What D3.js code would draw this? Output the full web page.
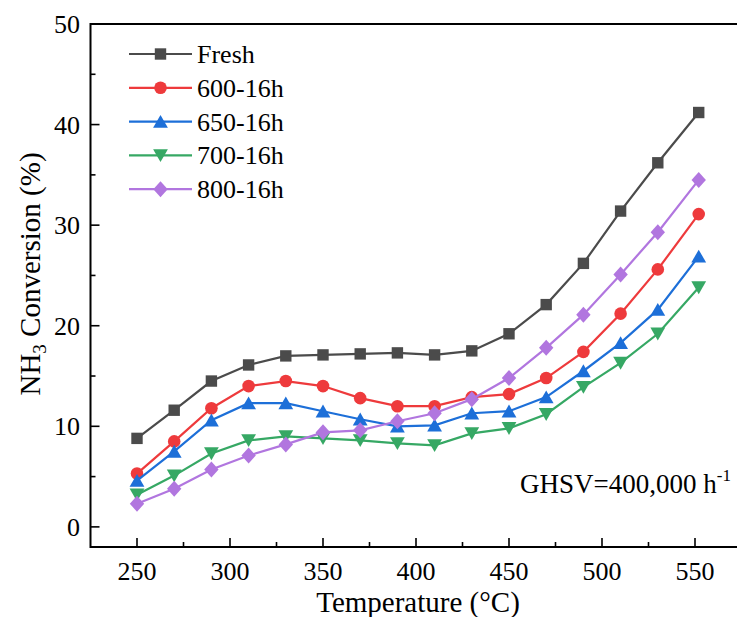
<!DOCTYPE html>
<html>
<head>
<meta charset="utf-8">
<script src="https://cdn.jsdelivr.net/npm/d3@7"></script>
<style>
  body { margin: 0; background: #fff; }
  svg { display: block; }
</style>
</head>
<body>
<div id="chart"></div>
<script>
/**
 * DATA
 * */
const temps = [250, 270, 290, 310, 330, 350, 370, 390, 410, 430, 450, 470, 490, 510, 530, 552];
const fresh = [8.8, 11.6, 14.5, 16.1, 17.0, 17.1, 17.2, 17.3, 17.1, 17.5, 19.2, 22.1, 26.2, 31.4, 36.2, 41.2];
const aged600 = [5.3, 8.5, 11.8, 14.0, 14.5, 14.0, 12.8, 12.0, 12.0, 12.9, 13.2, 14.8, 17.4, 21.2, 25.6, 31.1];
const aged650 = [4.6, 7.5, 10.6, 12.3, 12.3, 11.5, 10.7, 10.0, 10.1, 11.3, 11.5, 12.9, 15.5, 18.3, 21.6, 26.9];
const aged700 = [3.2, 5.1, 7.3, 8.6, 9.0, 8.8, 8.6, 8.3, 8.1, 9.3, 9.8, 11.2, 13.9, 16.3, 19.2, 23.8];
const aged800 = [2.3, 3.8, 5.7, 7.1, 8.2, 9.4, 9.6, 10.5, 11.3, 12.7, 14.8, 17.8, 21.1, 25.1, 29.3, 34.5];

const seriesNames = ["Fresh", "600-16h", "650-16h", "700-16h", "800-16h"];
const xTicks = [250, 300, 350, 400, 450, 500, 550];
const yTicks = [0, 10, 20, 30, 40, 50];

/**
 * CONSTANTS
 * */
const width = 737, height = 617;
const colors = ["#4b4b4b", "#ee3a3c", "#1d6fd8", "#36a864", "#b176df"];
const shapes = ["square", "circle", "triUp", "triDown", "diamond"];
const serif = "Liberation Serif";

const svg = d3.select("#chart")
  .append("svg")
  .attr("width", width)
  .attr("height", height)
  .attr("font-family", serif);

const x = d3.scaleLinear().domain([225, 575]).range([90.5, 741.5]);
const y = d3.scaleLinear().domain([-2, 50]).range([547, 24]);

// marker path, centred on its box
function markerPath(shape) {
  switch (shape) {
    case "square": return "M-5.7,-5.7H5.7V5.7H-5.7Z";
    case "circle": return "M6.3,0A6.3,6.3 0 1,1 -6.3,0A6.3,6.3 0 1,1 6.3,0Z";
    case "triUp": return "M0,-6.7L7.4,6.2L-7.4,6.2Z";
    case "triDown": return "M0,6.7L7.4,-6.2L-7.4,-6.2Z";
    case "diamond": return "M0,-8L7.2,0L0,8L-7.2,0Z";
  }
}

const allSeries = [fresh, aged600, aged650, aged700, aged800];

// + AXES FRAME
svg.append("path")
  .attr("d", `M${x(225)},${y(50)}H${x(575)}V${y(-2)}H${x(225)}Z`)
  .attr("fill", "none")
  .attr("stroke", "#000")
  .attr("stroke-width", 2);

// x ticks point inward
const xAxisG = svg.append("g").attr("stroke", "#000").attr("stroke-width", 1.6);
d3.range(250, 575, 25).forEach(v => {
  const major = v % 50 === 0;
  xAxisG.append("line")
    .attr("x1", x(v)).attr("x2", x(v))
    .attr("y1", y(-2)).attr("y2", y(-2) - (major ? 9 : 5));
});
svg.append("g").selectAll("text")
  .data(xTicks)
  .join("text")
  .attr("x", d => x(d))
  .attr("y", 579.5)
  .attr("text-anchor", "middle")
  .attr("font-size", 26)
  .text(d => d);

// y ticks point inward
const yAxisG = svg.append("g").attr("stroke", "#000").attr("stroke-width", 1.6);
d3.range(0, 50, 5).forEach(v => {
  const major = v % 10 === 0;
  yAxisG.append("line")
    .attr("x1", x(225)).attr("x2", x(225) + (major ? 9 : 5))
    .attr("y1", y(v)).attr("y2", y(v));
});
svg.append("g").selectAll("text")
  .data(yTicks)
  .join("text")
  .attr("x", 80)
  .attr("y", d => y(d) + 9)
  .attr("text-anchor", "end")
  .attr("font-size", 26)
  .text(d => d);

// axis titles
svg.append("text")
  .attr("x", 418)
  .attr("y", 611.5)
  .attr("text-anchor", "middle")
  .attr("font-size", 29)
  .text("Temperature (\u00B0C)");

const yTitle = svg.append("text")
  .attr("transform", "translate(40,274) rotate(-90)")
  .attr("text-anchor", "middle")
  .attr("font-size", 29);
yTitle.append("tspan").text("NH");
yTitle.append("tspan").attr("font-size", 19).attr("dy", 6).text("3");
yTitle.append("tspan").attr("dy", -6).text(" Conversion (%)");

// + LINES AND MARKERS
const line = d3.line()
  .x((d, i) => x(temps[i]))
  .y(d => y(d));

allSeries.forEach((vals, k) => {
  const g = svg.append("g");
  g.append("path")
    .datum(vals)
    .attr("d", line)
    .attr("fill", "none")
    .attr("stroke", colors[k])
    .attr("stroke-width", 2.2);
  g.selectAll("path.m")
    .data(vals)
    .join("path")
    .attr("class", "m")
    .attr("transform", (d, i) => `translate(${x(temps[i])},${y(d)})`)
    .attr("d", markerPath(shapes[k]))
    .attr("fill", colors[k]);
});

// + LEGEND
const legend = svg.append("g");
seriesNames.forEach((name, k) => {
  const ly = 54 + k * 33.8;
  legend.append("line")
    .attr("x1", 129).attr("x2", 192)
    .attr("y1", ly).attr("y2", ly)
    .attr("stroke", colors[k]).attr("stroke-width", 2.2);
  legend.append("path")
    .attr("transform", `translate(160.5,${ly})`)
    .attr("d", markerPath(shapes[k]))
    .attr("fill", colors[k]);
  legend.append("text")
    .attr("x", 197)
    .attr("y", ly + 9)
    .attr("font-size", 26)
    .text(name);
});

// + ANNOTATION
const note = svg.append("text")
  .attr("x", 520)
  .attr("y", 493)
  .attr("font-size", 27);
note.append("tspan").text("GHSV=400,000 h");
note.append("tspan").attr("font-size", 17).attr("dy", -12).text("-1");
</script>
</body>
</html>
